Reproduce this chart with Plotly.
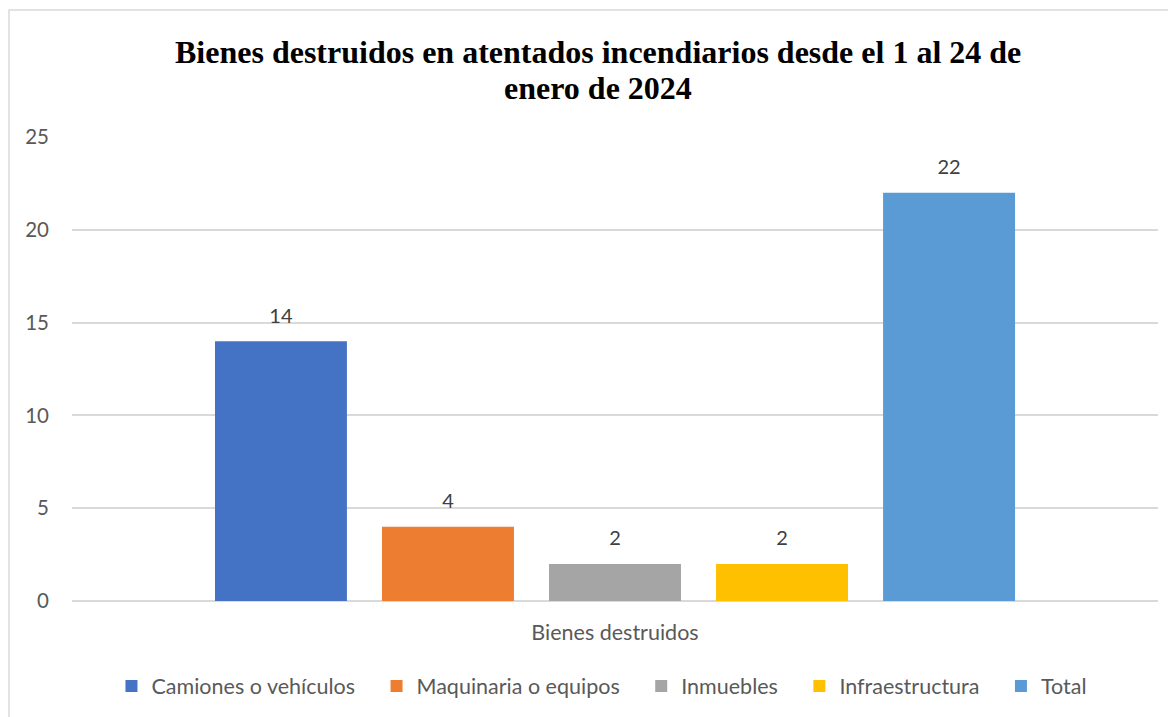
import plotly.graph_objects as go

# Data
categoria = ["Bienes destruidos"]
series = ["Camiones o vehículos", "Maquinaria o equipos", "Inmuebles", "Infraestructura", "Total"]
valores = [14, 4, 2, 2, 22]
colores = ["#4472C4", "#ED7D31", "#A5A5A5", "#FFC000", "#5B9BD5"]
titulo = ["Bienes destruidos en atentados incendiarios desde el 1 al 24 de", "enero de 2024"]

fig = go.Figure()
for i, (nombre, v, c) in enumerate(zip(series, valores, colores)):
    # a bit of trailing space so legend entries spread like the original
    etiqueta = nombre if i == len(series) - 1 else nombre + "\u00a0\u00a0\u00a0"
    fig.add_trace(go.Bar(
        x=categoria, y=[v], name=etiqueta, offsetgroup=nombre,
        marker=dict(color=c, line=dict(width=0)),
    ))
# data labels (grouped like the bars)
for nombre, v in zip(series, valores):
    fig.add_trace(go.Scatter(
        x=categoria, y=[v], offsetgroup=nombre, mode="markers+text",
        text=[v], textposition="top center", showlegend=False, hoverinfo="skip",
        marker=dict(size=20, opacity=0), cliponaxis=False,
        textfont=dict(family="Lato", size=20, color="#404040"),
    ))

fig.update_layout(
    width=1176, height=717,
    barmode="group", bargap=0.231, bargroupgap=0.21,
    scattermode="group", scattergap=0.231,
    plot_bgcolor="white", paper_bgcolor="white",
    margin=dict(l=64, r=26, t=129, b=124),
    legend=dict(
        orientation="h", x=0.488, xanchor="center", y=-0.183, yanchor="middle",
        font=dict(family="Lato", size=21.5, color="#595959"),
        itemwidth=30, traceorder="normal",
    ),
    font=dict(family="Lato", color="#595959"),
    shapes=[dict(
        type="rect", xref="paper", yref="paper",
        x0=-0.058, x1=1.2, y0=-0.6, y1=1.2737,
        line=dict(color="#d9d9d9", width=1.5), layer="below",
    )],
    annotations=[
        dict(text=f"<b>{t}</b>", xref="paper", yref="paper", x=0.4839, y=yy,
             xanchor="center", yanchor="middle", showarrow=False,
             font=dict(family="Liberation Serif", size=32, color="black"))
        for t, yy in zip(titulo, [1.1832, 1.1056])
    ],
)

fig.update_yaxes(
    range=[0, 25], dtick=5, showgrid=True, gridcolor="#d9d9d9", gridwidth=1.5,
    zeroline=True, zerolinecolor="#d9d9d9", zerolinewidth=1.5,
    tickfont=dict(family="Lato", size=20.5, color="#595959"), ticks="", ticklabelstandoff=22,
    showline=False,
)
fig.update_xaxes(
    tickfont=dict(family="Lato", size=21.5, color="#595959"), ticks="", showline=False,
    ticklabelstandoff=16,
)

fig.write_html("out.html")
